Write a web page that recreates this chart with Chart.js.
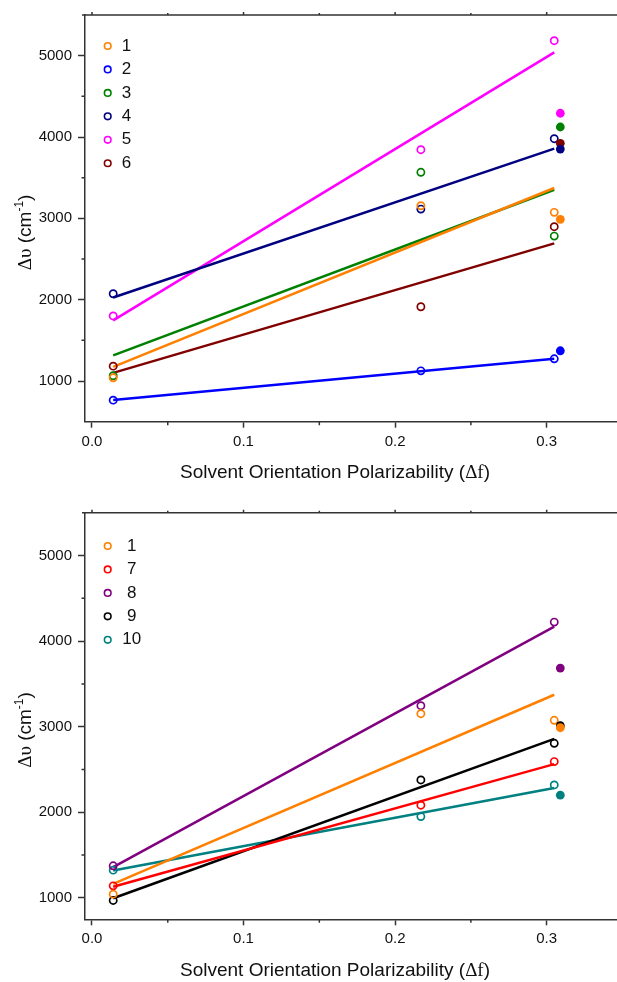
<!DOCTYPE html>
<html>
<head>
<meta charset="utf-8">
<script src="https://cdn.jsdelivr.net/npm/chart.js@4.4.1/dist/chart.umd.min.js"></script>
<style>
  body { margin: 0; background: #fff; }
  .panel { position: absolute; left: 0; width: 617px; height: 491px; }
</style>
</head>
<body>
<div class="panel" style="top:0"><canvas id="upper" width="617" height="491"></canvas></div>
<div class="panel" style="top:491px"><canvas id="lower" width="617" height="491"></canvas></div>
<script>
// orientation polarizability of the aprotic solvents and of the protic one (filled dots)
const solventDf = [0.014, 0.217, 0.305];
const proticDf = 0.309;

const xTicks = [0, 0.1, 0.2, 0.3];
const xMinor = [0.05, 0.15, 0.25];
const yTicks = [1000, 2000, 3000, 4000, 5000];
const yMinor = [1500, 2500, 3500, 4500];

// upper panel, compounds 1-6
const upperNames = ['1', '2', '3', '4', '5', '6'];
const upperColors = ['#ff8000', '#0000ff', '#008000', '#000080', '#ff00ff', '#800000'];
const upperShift = [
  [1040, 3155, 3074],
  [765, 1125, 1273],
  [1065, 3566, 2782],
  [2073, 3114, 3979],
  [1800, 3844, 5184],
  [1183, 1913, 2897]
];
const upperProtic = [2988, 1372, 4123, 3852, 4292, 3922];
// linear fit, value at the first and last solvent
const upperFit = [
  [1174, 3373],
  [766, 1275],
  [1316, 3352],
  [2027, 3858],
  [1745, 5040],
  [1100, 2692]
];

// lower panel, compounds 1 and 7-10
const lowerNames = ['1', '7', '8', '9', '10'];
const lowerColors = ['#ff8000', '#ff0000', '#800080', '#000000', '#008080'];
const lowerShift = [
  [1044, 3152, 3075],
  [1141, 2083, 2592],
  [1375, 3245, 4222],
  [970, 2378, 2806],
  [1324, 1950, 2320]
];
const lowerProtic = [2988, null, 3685, 3012, 2200];
const lowerFit = [
  [1165, 3373],
  [1130, 2563],
  [1360, 4168],
  [996, 2857],
  [1320, 2285]
];

const SANS = "'Liberation Sans', Arial, sans-serif";
const SERIF = "'Liberation Serif', 'Times New Roman', serif";
const AXIS = '#333';

function buildDatasets(colors, shift, protic, fit) {
  const sets = [];
  colors.forEach((c, i) => {
    sets.push({
      data: [{ x: solventDf[0], y: fit[i][0] }, { x: solventDf[2], y: fit[i][1] }],
      showLine: true, borderColor: c, borderWidth: 2.5, pointRadius: 0, order: 3
    });
    sets.push({
      data: solventDf.map((x, k) => ({ x, y: shift[i][k] })),
      showLine: false, pointRadius: 3.6, pointBorderWidth: 1.7,
      pointBorderColor: c, pointBackgroundColor: 'rgba(0,0,0,0)', order: 2
    });
    if (protic[i] !== null) {
      sets.push({
        data: [{ x: proticDf, y: protic[i] }],
        showLine: false, pointRadius: 4.4, pointBorderWidth: 0,
        pointBackgroundColor: c, pointBorderColor: c, order: 1
      });
    }
  });
  return sets;
}

// frame, minor ticks, in-plot legend and the axis titles
const decor = {
  id: 'decor',
  afterDraw(chart, args, opts) {
    const { ctx, chartArea: a, scales: { x, y } } = chart;
    ctx.save();
    ctx.strokeStyle = AXIS;
    ctx.lineWidth = 1.5;
    ctx.beginPath();
    ctx.moveTo(a.left - 3, a.top);
    ctx.lineTo(a.right, a.top);
    xTicks.forEach(v => { const px = x.getPixelForValue(v); ctx.moveTo(px, a.top); ctx.lineTo(px, a.top - 3); });
    xMinor.forEach(v => {
      const px = x.getPixelForValue(v);
      ctx.moveTo(px, a.top); ctx.lineTo(px, a.top - 2);
      ctx.moveTo(px, a.bottom); ctx.lineTo(px, a.bottom + 3.5);
    });
    yMinor.forEach(v => { const py = y.getPixelForValue(v); ctx.moveTo(a.left, py); ctx.lineTo(a.left - 3.5, py); });
    ctx.stroke();

    // legend
    opts.names.forEach((n, i) => {
      const cy = a.top + opts.legendTop + i * opts.legendGap;
      ctx.beginPath();
      ctx.arc(107.7, cy, 3.3, 0, Math.PI * 2);
      ctx.lineWidth = 1.6;
      ctx.strokeStyle = opts.colors[i];
      ctx.stroke();
      ctx.fillStyle = '#111';
      ctx.font = '17px ' + SANS;
      ctx.textAlign = 'center';
      ctx.textBaseline = 'alphabetic';
      ctx.fillText(n, opts.legendText, cy + 4.6);
    });

    ctx.fillStyle = '#111';
    ctx.textBaseline = 'alphabetic';
    ctx.textAlign = 'left';
    drawRich(ctx, [
      ['Solvent Orientation Polarizability (', '19px ' + SANS, 0],
      ['\u0394f', '19px ' + SERIF, 0],
      [')', '19px ' + SANS, 0]
    ], 335, a.bottom + 56.5);

    ctx.translate(31, (a.top + a.bottom) / 2 + 14);
    ctx.rotate(-Math.PI / 2);
    drawRich(ctx, [
      ['\u0394\u03c5', '19px ' + SERIF, 0],
      [' (cm', '19px ' + SANS, 0],
      ['-1', '12px ' + SANS, 8],
      [')', '19px ' + SANS, 0]
    ], 0, 0);
    ctx.restore();
  }
};

// draws text pieces centred on cx, each with its own font and raise
function drawRich(ctx, parts, cx, baseY) {
  let total = 0;
  parts.forEach(p => { ctx.font = p[1]; total += ctx.measureText(p[0]).width; });
  let px = cx - total / 2;
  parts.forEach(p => {
    ctx.font = p[1];
    ctx.fillText(p[0], px, baseY - p[2]);
    px += ctx.measureText(p[0]).width;
  });
}

function makeChart(id, setup) {
  new Chart(document.getElementById(id), {
    type: 'scatter',
    data: { datasets: buildDatasets(setup.colors, setup.shift, setup.protic, setup.fit) },
    options: {
      responsive: false,
      animation: false,
      layout: { autoPadding: false, padding: { top: setup.padTop, left: 0, right: 0, bottom: 0 } },
      plugins: {
        legend: { display: false },
        tooltip: { enabled: false },
        decor: { names: setup.names, colors: setup.colors, legendTop: setup.legendTop, legendGap: 23.45, legendText: setup.legendText }
      },
      scales: {
        x: {
          type: 'linear', min: -0.0046, max: 0.3464,
          afterBuildTicks: s => { s.ticks = xTicks.map(v => ({ value: v })); },
          afterFit: s => { s.height = setup.xHeight; },
          ticks: { callback: v => v.toFixed(1), font: { size: 15, family: SANS }, color: '#111', padding: 5, maxRotation: 0, autoSkip: false },
          grid: { drawOnChartArea: false, tickLength: 6, tickWidth: 1.5, tickColor: AXIS },
          border: { color: AXIS, width: 1.5 }
        },
        y: {
          type: 'linear', min: setup.yMin, max: 5500,
          afterBuildTicks: s => { s.ticks = yTicks.map(v => ({ value: v })); },
          afterFit: s => { s.width = 85; },
          ticks: { callback: v => String(v), font: { size: 15, family: SANS }, color: '#111', padding: 6 },
          grid: { drawOnChartArea: false, tickLength: 7, tickWidth: 1.5, tickColor: AXIS },
          border: { color: AXIS, width: 1.5 }
        }
      }
    },
    plugins: [decor]
  });
}

makeChart('upper', {
  names: upperNames, colors: upperColors, shift: upperShift, protic: upperProtic, fit: upperFit,
  yMin: 500, padTop: 14.7, xHeight: 69.3, legendTop: 31, legendText: 126.5
});
makeChart('lower', {
  names: lowerNames, colors: lowerColors, shift: lowerShift, protic: lowerProtic, fit: lowerFit,
  yMin: 750, padTop: 21.7, xHeight: 62.7, legendTop: 33.3, legendText: 131.8
});
</script>
</body>
</html>
